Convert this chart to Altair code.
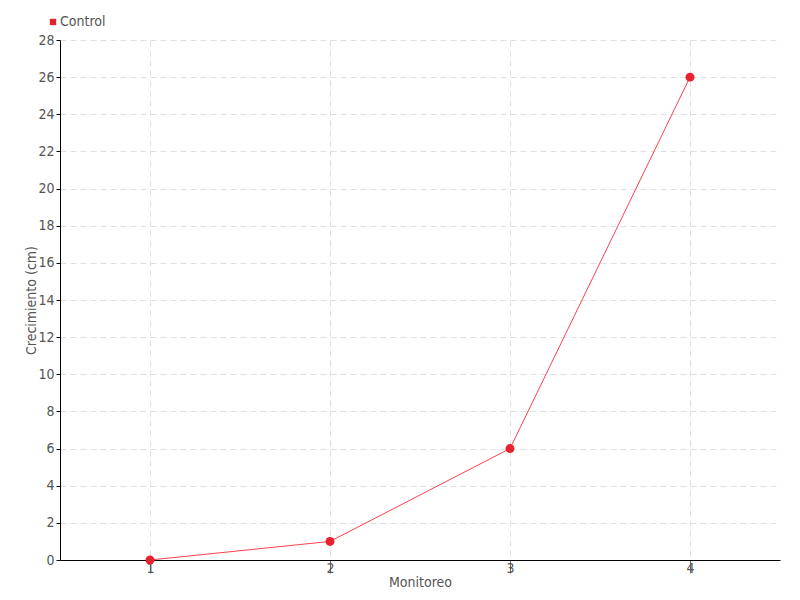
import altair as alt
import pandas as pd

monitoreo = [1, 2, 3, 4]
crecimiento = [0, 1, 6, 26]
serie = ["Control"] * 4

df = pd.DataFrame({"Monitoreo": monitoreo, "Crecimiento": crecimiento, "Serie": serie})

FONT = "DejaVu Sans Condensed"
TXT = "#555555"

x = alt.X("Monitoreo:Q", scale=alt.Scale(domain=[0.5, 4.5], nice=False, zero=False),
          axis=alt.Axis(values=[1, 2, 3, 4], title="Monitoreo", format="d",
                        grid=True, gridDash=[6, 4], gridColor="#e0e0e0",
                        domainColor="#000000", tickColor="#666666", tickSize=13,
                        labelFont=FONT, labelFontSize=14, labelColor=TXT, labelPadding=-12,
                        titleFont=FONT, titleFontSize=14, titleColor=TXT,
                        titleFontWeight="normal", titlePadding=0))
y = alt.Y("Crecimiento:Q", scale=alt.Scale(domain=[0, 28], nice=False),
          axis=alt.Axis(values=list(range(0, 29, 2)), title="Crecimiento (cm)",
                        grid=True, gridDash=[6, 4], gridColor="#e0e0e0",
                        domainColor="#000000", tickColor="#000000", tickSize=4,
                        labelFont=FONT, labelFontSize=14, labelColor=TXT, labelPadding=2,
                        titleFont=FONT, titleFontSize=14, titleColor=TXT,
                        titleFontWeight="normal", titlePadding=-1))

color = alt.Color("Serie:N", scale=alt.Scale(domain=["Control"], range=["#e8212e"]),
                  legend=alt.Legend(title=None, orient="none", legendX=-14, legendY=-25,
                                    symbolType="square", symbolSize=40,
                                    labelFont=FONT, labelFontSize=14, labelColor=TXT,
                                    labelOffset=0))

line = alt.Chart(df).mark_line(color="#ff4050", strokeWidth=1).encode(x=x, y=y)
pts = alt.Chart(df).mark_point(filled=True, size=80, opacity=1).encode(x=x, y=y, color=color)

chart = alt.layer(line, pts).properties(
    width=720, height=520,
    autosize=alt.AutoSizeParams(type="none"),
    padding={"left": 52, "top": 32, "right": 12, "bottom": 32},
).configure(background="white").configure_view(stroke=None)

chart.save("out.html", embed_options={"renderer": "svg", "actions": False})
